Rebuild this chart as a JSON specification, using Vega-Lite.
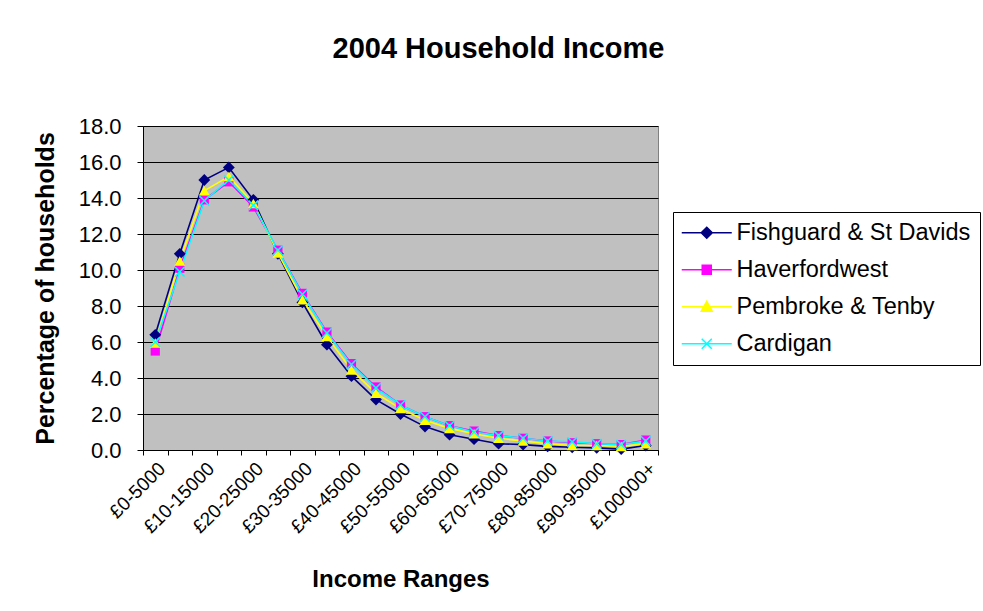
{
  "$schema": "https://vega.github.io/schema/vega-lite/v6.json",
  "width": 515,
  "height": 324,
  "autosize": "none",
  "padding": {"left": 143, "top": 126, "right": 325, "bottom": 161},
  "background": "white",
  "title": {
    "text": "2004 Household Income",
    "font": "Liberation Sans",
    "fontSize": 29,
    "fontWeight": "bold",
    "color": "black",
    "anchor": "middle",
    "frame": "group",
    "dx": 98,
    "offset": 51
  },
  "config": {
    "font": "Liberation Sans",
    "view": {"fill": "#C0C0C0", "stroke": "#808080", "strokeWidth": 1}
  },
  "data": {
    "values": [
      {"range": "£0-5000", "series": "Fishguard & St Davids", "pct": 6.4},
      {"range": "£5-10000", "series": "Fishguard & St Davids", "pct": 10.9},
      {"range": "£10-15000", "series": "Fishguard & St Davids", "pct": 15.0},
      {"range": "£15-20000", "series": "Fishguard & St Davids", "pct": 15.7},
      {"range": "£20-25000", "series": "Fishguard & St Davids", "pct": 13.9},
      {"range": "£25-30000", "series": "Fishguard & St Davids", "pct": 10.9},
      {"range": "£30-35000", "series": "Fishguard & St Davids", "pct": 8.2},
      {"range": "£35-40000", "series": "Fishguard & St Davids", "pct": 5.85},
      {"range": "£40-45000", "series": "Fishguard & St Davids", "pct": 4.1},
      {"range": "£45-50000", "series": "Fishguard & St Davids", "pct": 2.8},
      {"range": "£50-55000", "series": "Fishguard & St Davids", "pct": 2.0},
      {"range": "£55-60000", "series": "Fishguard & St Davids", "pct": 1.3},
      {"range": "£60-65000", "series": "Fishguard & St Davids", "pct": 0.85},
      {"range": "£65-70000", "series": "Fishguard & St Davids", "pct": 0.6},
      {"range": "£70-75000", "series": "Fishguard & St Davids", "pct": 0.35},
      {"range": "£75-80000", "series": "Fishguard & St Davids", "pct": 0.3},
      {"range": "£80-85000", "series": "Fishguard & St Davids", "pct": 0.2},
      {"range": "£85-90000", "series": "Fishguard & St Davids", "pct": 0.15},
      {"range": "£90-95000", "series": "Fishguard & St Davids", "pct": 0.12},
      {"range": "£95-100000", "series": "Fishguard & St Davids", "pct": 0.05},
      {"range": "£100000+", "series": "Fishguard & St Davids", "pct": 0.25},

      {"range": "£0-5000", "series": "Haverfordwest", "pct": 5.5},
      {"range": "£5-10000", "series": "Haverfordwest", "pct": 10.1},
      {"range": "£10-15000", "series": "Haverfordwest", "pct": 13.9},
      {"range": "£15-20000", "series": "Haverfordwest", "pct": 14.9},
      {"range": "£20-25000", "series": "Haverfordwest", "pct": 13.5},
      {"range": "£25-30000", "series": "Haverfordwest", "pct": 11.1},
      {"range": "£30-35000", "series": "Haverfordwest", "pct": 8.7},
      {"range": "£35-40000", "series": "Haverfordwest", "pct": 6.55},
      {"range": "£40-45000", "series": "Haverfordwest", "pct": 4.8},
      {"range": "£45-50000", "series": "Haverfordwest", "pct": 3.5},
      {"range": "£50-55000", "series": "Haverfordwest", "pct": 2.5},
      {"range": "£55-60000", "series": "Haverfordwest", "pct": 1.85},
      {"range": "£60-65000", "series": "Haverfordwest", "pct": 1.35},
      {"range": "£65-70000", "series": "Haverfordwest", "pct": 1.05},
      {"range": "£70-75000", "series": "Haverfordwest", "pct": 0.8},
      {"range": "£75-80000", "series": "Haverfordwest", "pct": 0.65},
      {"range": "£80-85000", "series": "Haverfordwest", "pct": 0.5},
      {"range": "£85-90000", "series": "Haverfordwest", "pct": 0.4},
      {"range": "£90-95000", "series": "Haverfordwest", "pct": 0.35},
      {"range": "£95-100000", "series": "Haverfordwest", "pct": 0.3},
      {"range": "£100000+", "series": "Haverfordwest", "pct": 0.55},

      {"range": "£0-5000", "series": "Pembroke & Tenby", "pct": 5.95},
      {"range": "£5-10000", "series": "Pembroke & Tenby", "pct": 10.5},
      {"range": "£10-15000", "series": "Pembroke & Tenby", "pct": 14.4},
      {"range": "£15-20000", "series": "Pembroke & Tenby", "pct": 15.2},
      {"range": "£20-25000", "series": "Pembroke & Tenby", "pct": 13.7},
      {"range": "£25-30000", "series": "Pembroke & Tenby", "pct": 10.95},
      {"range": "£30-35000", "series": "Pembroke & Tenby", "pct": 8.35},
      {"range": "£35-40000", "series": "Pembroke & Tenby", "pct": 6.3},
      {"range": "£40-45000", "series": "Pembroke & Tenby", "pct": 4.45},
      {"range": "£45-50000", "series": "Pembroke & Tenby", "pct": 3.15},
      {"range": "£50-55000", "series": "Pembroke & Tenby", "pct": 2.3},
      {"range": "£55-60000", "series": "Pembroke & Tenby", "pct": 1.65},
      {"range": "£60-65000", "series": "Pembroke & Tenby", "pct": 1.2},
      {"range": "£65-70000", "series": "Pembroke & Tenby", "pct": 0.9},
      {"range": "£70-75000", "series": "Pembroke & Tenby", "pct": 0.65},
      {"range": "£75-80000", "series": "Pembroke & Tenby", "pct": 0.5},
      {"range": "£80-85000", "series": "Pembroke & Tenby", "pct": 0.35},
      {"range": "£85-90000", "series": "Pembroke & Tenby", "pct": 0.25},
      {"range": "£90-95000", "series": "Pembroke & Tenby", "pct": 0.25},
      {"range": "£95-100000", "series": "Pembroke & Tenby", "pct": 0.2},
      {"range": "£100000+", "series": "Pembroke & Tenby", "pct": 0.35},

      {"range": "£0-5000", "series": "Cardigan", "pct": 6.0},
      {"range": "£5-10000", "series": "Cardigan", "pct": 9.9},
      {"range": "£10-15000", "series": "Cardigan", "pct": 13.85},
      {"range": "£15-20000", "series": "Cardigan", "pct": 15.0},
      {"range": "£20-25000", "series": "Cardigan", "pct": 13.6},
      {"range": "£25-30000", "series": "Cardigan", "pct": 11.1},
      {"range": "£30-35000", "series": "Cardigan", "pct": 8.65},
      {"range": "£35-40000", "series": "Cardigan", "pct": 6.5},
      {"range": "£40-45000", "series": "Cardigan", "pct": 4.75},
      {"range": "£45-50000", "series": "Cardigan", "pct": 3.45},
      {"range": "£50-55000", "series": "Cardigan", "pct": 2.5},
      {"range": "£55-60000", "series": "Cardigan", "pct": 1.85},
      {"range": "£60-65000", "series": "Cardigan", "pct": 1.35},
      {"range": "£65-70000", "series": "Cardigan", "pct": 1.0},
      {"range": "£70-75000", "series": "Cardigan", "pct": 0.8},
      {"range": "£75-80000", "series": "Cardigan", "pct": 0.65},
      {"range": "£80-85000", "series": "Cardigan", "pct": 0.5},
      {"range": "£85-90000", "series": "Cardigan", "pct": 0.45},
      {"range": "£90-95000", "series": "Cardigan", "pct": 0.35},
      {"range": "£95-100000", "series": "Cardigan", "pct": 0.3},
      {"range": "£100000+", "series": "Cardigan", "pct": 0.5}
    ]
  },
  "encoding": {
    "x": {
      "field": "range",
      "type": "nominal",
      "sort": ["£0-5000", "£5-10000", "£10-15000", "£15-20000", "£20-25000", "£25-30000", "£30-35000", "£35-40000", "£40-45000", "£45-50000", "£50-55000", "£55-60000", "£60-65000", "£65-70000", "£70-75000", "£75-80000", "£80-85000", "£85-90000", "£90-95000", "£95-100000", "£100000+"],
      "scale": {"paddingInner": 0, "paddingOuter": 0},
      "axis": {
        "title": "Income Ranges",
        "titleFont": "Liberation Sans",
        "titleFontSize": 24,
        "titleFontWeight": "bold",
        "titleColor": "black",
        "titlePadding": 31,
        "labelAngle": -45,
        "labelFont": "Liberation Sans",
        "labelFontSize": 19,
        "labelColor": "black",
        "labelPadding": 4,
        "labelOverlap": false,
        "labelExpr": "indexof(['£0-5000','£10-15000','£20-25000','£30-35000','£40-45000','£50-55000','£60-65000','£70-75000','£80-85000','£90-95000','£100000+'], datum.label) >= 0 ? datum.label : ''",
        "tickBand": "extent",
        "tickColor": "black",
        "tickSize": 5,
        "domainColor": "black",
        "grid": false
      }
    },
    "y": {
      "field": "pct",
      "type": "quantitative",
      "scale": {"domain": [0, 18], "nice": false, "zero": true},
      "axis": {
        "title": "Percentage of households",
        "titleFont": "Liberation Sans",
        "titleFontSize": 25,
        "titleFontWeight": "bold",
        "titleColor": "black",
        "titlePadding": 20,
        "values": [0, 2, 4, 6, 8, 10, 12, 14, 16, 18],
        "format": ".1f",
        "labelFont": "Liberation Sans",
        "labelFontSize": 22,
        "labelColor": "black",
        "labelPadding": 16,
        "tickColor": "black",
        "tickSize": 6,
        "domainColor": "black",
        "grid": true,
        "gridColor": "black",
        "gridWidth": 1,
        "gridOpacity": 1
      }
    },
    "color": {
      "field": "series",
      "type": "nominal",
      "scale": {
        "domain": ["Fishguard & St Davids", "Haverfordwest", "Pembroke & Tenby", "Cardigan"],
        "range": ["#000080", "#FF00FF", "#FFFF00", "#00FFFF"]
      },
      "legend": {
        "title": null,
        "orient": "none",
        "legendX": 530,
        "legendY": 86,
        "padding": 9,
        "strokeColor": "black",
        "fillColor": "white",
        "labelFont": "Liberation Sans",
        "labelFontSize": 23.5,
        "labelColor": "black",
        "labelOffset": 18,
        "labelLimit": 400,
        "symbolSize": 100,
        "symbolOffset": 13,
        "symbolStrokeWidth": 1.5,
        "rowPadding": 12,
        "encode": {
          "symbols": {
            "update": {
              "shape": {"signal": "datum.value === 'Fishguard & St Davids' ? 'M-5,0H5M0,-1.1L1.1,0L0,1.1L-1.1,0Z' : datum.value === 'Haverfordwest' ? 'M-5,0H5M-0.9,-0.9H0.9V0.9H-0.9Z' : datum.value === 'Pembroke & Tenby' ? 'M-5,0H5M0,-1.1L1.1,0.9H-1.1Z' : 'M-5,0H5M-1,-1L1,1M1,-1L-1,1'"}
            }
          }
        }
      }
    }
  },
  "layer": [
    {
      "mark": {"type": "line", "strokeWidth": 1.6}
    },
    {
      "transform": [{"filter": {"field": "series", "equal": "Fishguard & St Davids"}}],
      "mark": {"type": "point", "filled": true, "shape": "diamond", "size": 140, "opacity": 1}
    },
    {
      "transform": [{"filter": {"field": "series", "equal": "Haverfordwest"}}],
      "mark": {"type": "point", "filled": true, "shape": "square", "size": 85, "opacity": 1}
    },
    {
      "transform": [{"filter": {"field": "series", "equal": "Pembroke & Tenby"}}],
      "mark": {"type": "point", "filled": true, "shape": "triangle-up", "size": 120, "opacity": 1}
    },
    {
      "transform": [{"filter": {"field": "series", "equal": "Cardigan"}}],
      "mark": {"type": "point", "filled": false, "shape": "M-1,-1L1,1M1,-1L-1,1", "size": 90, "strokeWidth": 1.5, "opacity": 1}
    }
  ]
}
